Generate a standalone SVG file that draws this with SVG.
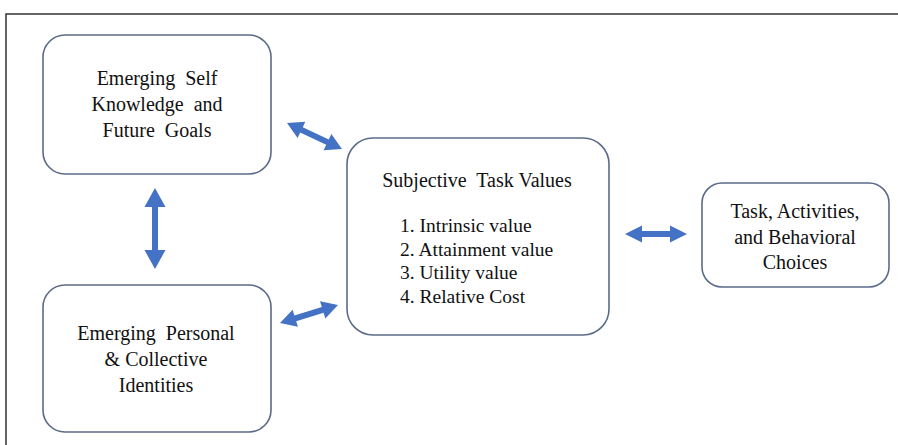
<svg xmlns="http://www.w3.org/2000/svg" width="898" height="445" viewBox="0 0 898 445">
<style>
.box{fill:#fff;stroke:#5a6b88;stroke-width:1.6}
.t{font-family:'Liberation Serif','Times New Roman',serif;font-size:20px;fill:#111;text-anchor:middle}
.l{font-family:'Liberation Serif','Times New Roman',serif;font-size:19.5px;fill:#111}
.arr{fill:#4472c4}
</style>
<rect x="0" y="0" width="898" height="445" fill="#fff"/>
<rect x="6" y="14" width="900" height="440" fill="none" stroke="#333" stroke-width="1.5"/>
<g id="connectors">
<polygon class="arr" transform="translate(287,123) rotate(25.3)" points="0,0 16,-9 16,-3 44.8,-3 44.8,-9 60.8,0 44.8,9 44.8,3 16,3 16,9"/>
<polygon class="arr" transform="translate(280,323) rotate(-17.2)" points="0,0 16,-9 16,-3 44.7,-3 44.7,-9 60.7,0 44.7,9 44.7,3 16,3 16,9"/>
<polygon class="arr" transform="translate(155,188) rotate(90)" points="0,0 19,-10.5 19,-3 62,-3 62,-10.5 81,0 62,10.5 62,3 19,3 19,10.5"/>
<polygon class="arr" transform="translate(625,234)" points="0,0 17,-8.5 17,-3 45,-3 45,-8.5 62,0 45,8.5 45,3 17,3 17,8.5"/>
</g>
<g id="node-self">
<rect class="box" x="43" y="35" width="228" height="139" rx="22"/>
<text class="t" x="157" y="85" xml:space="preserve">Emerging  Self</text>
<text class="t" x="157" y="111" xml:space="preserve">Knowledge  and</text>
<text class="t" x="157" y="137" xml:space="preserve">Future  Goals</text>
</g>
<g id="node-identities">
<rect class="box" x="43" y="285" width="228" height="147" rx="22"/>
<text class="t" x="156" y="340" xml:space="preserve">Emerging  Personal</text>
<text class="t" x="156" y="366">&amp; Collective</text>
<text class="t" x="156" y="392">Identities</text>
</g>
<g id="node-values">
<rect class="box" x="347" y="138" width="262" height="197" rx="26"/>
<text class="t" x="477" y="187" xml:space="preserve">Subjective  Task Values</text>
<text class="l" x="400" y="232">1. Intrinsic value</text>
<text class="l" x="400" y="256">2. Attainment value</text>
<text class="l" x="400" y="279">3. Utility value</text>
<text class="l" x="400" y="303">4. Relative Cost</text>
</g>
<g id="node-choices">
<rect class="box" x="702" y="183" width="187" height="104" rx="20"/>
<text class="t" x="795" y="218">Task, Activities,</text>
<text class="t" x="795" y="244">and Behavioral</text>
<text class="t" x="795" y="269">Choices</text>
</g>
</svg>
